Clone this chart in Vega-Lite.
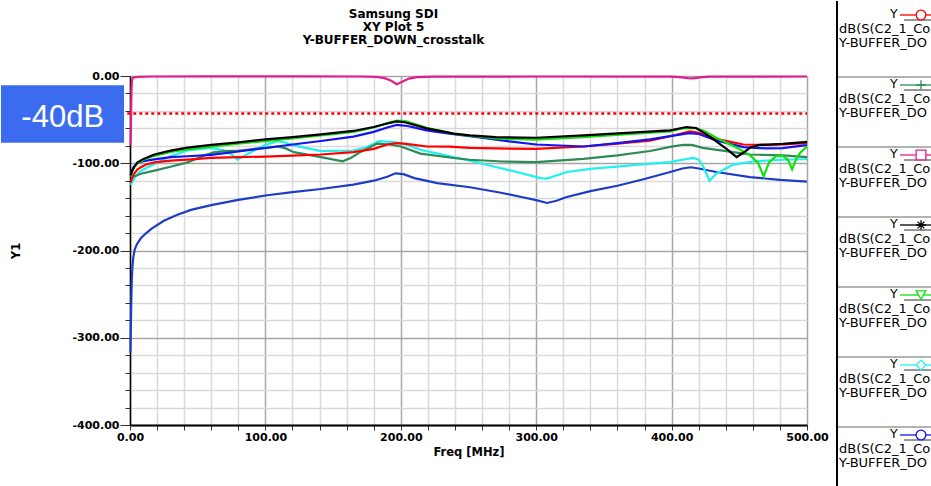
{
  "$schema": "https://vega.github.io/schema/vega-lite/v6.json",
  "padding": 0,
  "background": "white",
  "bounds": "flush",
  "spacing": 30,
  "config": {
    "view": {"stroke": null},
    "axis": {"labelFont": "DejaVu Sans", "labelFontWeight": "bold", "labelFontSize": 11, "labelColor": "#000000", "titleFont": "DejaVu Sans", "titleFontWeight": "bold", "titleFontSize": 11.5, "titleColor": "#000000"}
  },
  "datasets": {
    "curves": [
      {"series":"S8","f":0.3,"db":-317},{"series":"S8","f":0.6,"db":-290},{"series":"S8","f":0.9,"db":-262},{"series":"S8","f":1.3,"db":-235},{"series":"S8","f":1.8,"db":-218},{"series":"S8","f":2.5,"db":-207},{"series":"S8","f":3.5,"db":-199},{"series":"S8","f":5,"db":-193},{"series":"S8","f":8,"db":-186},{"series":"S8","f":12,"db":-180},{"series":"S8","f":16,"db":-175},{"series":"S8","f":25,"db":-166},{"series":"S8","f":35,"db":-159},{"series":"S8","f":45,"db":-153.5},{"series":"S8","f":60,"db":-148},{"series":"S8","f":80,"db":-142},{"series":"S8","f":100,"db":-137},{"series":"S8","f":120,"db":-133},{"series":"S8","f":141,"db":-129.5},{"series":"S8","f":165,"db":-124.5},{"series":"S8","f":180,"db":-120},{"series":"S8","f":190,"db":-115.5},{"series":"S8","f":196,"db":-111.5},{"series":"S8","f":202,"db":-112.5},{"series":"S8","f":210,"db":-117},{"series":"S8","f":227,"db":-122.7},{"series":"S8","f":251,"db":-127.5},{"series":"S8","f":273,"db":-133.5},{"series":"S8","f":290,"db":-139},{"series":"S8","f":300,"db":-142.3},{"series":"S8","f":308,"db":-145.5},{"series":"S8","f":315,"db":-143},{"series":"S8","f":322,"db":-139},{"series":"S8","f":340,"db":-132},{"series":"S8","f":360,"db":-125.8},{"series":"S8","f":380,"db":-118},{"series":"S8","f":399,"db":-110},{"series":"S8","f":408,"db":-106},{"series":"S8","f":414,"db":-104.6},{"series":"S8","f":420,"db":-106},{"series":"S8","f":433,"db":-110},{"series":"S8","f":458,"db":-116},{"series":"S8","f":480,"db":-119},{"series":"S8","f":500,"db":-121},

      {"series":"S6","f":0.5,"db":-125},{"series":"S6","f":2,"db":-120},{"series":"S6","f":4,"db":-115},{"series":"S6","f":8,"db":-108.5},{"series":"S6","f":18,"db":-100.8},{"series":"S6","f":30,"db":-92},{"series":"S6","f":42.5,"db":-85.4},{"series":"S6","f":60,"db":-82.3},{"series":"S6","f":69.5,"db":-85.4},{"series":"S6","f":75,"db":-90},{"series":"S6","f":79.4,"db":-96},{"series":"S6","f":85,"db":-91},{"series":"S6","f":91.6,"db":-85.4},{"series":"S6","f":100,"db":-79},{"series":"S6","f":109,"db":-74.6},{"series":"S6","f":115,"db":-76.5},{"series":"S6","f":121,"db":-79.6},{"series":"S6","f":141,"db":-86},{"series":"S6","f":165,"db":-85.4},{"series":"S6","f":175,"db":-81.5},{"series":"S6","f":184,"db":-74.6},{"series":"S6","f":195,"db":-75.8},{"series":"S6","f":205,"db":-79},{"series":"S6","f":214.5,"db":-84.6},{"series":"S6","f":239,"db":-93},{"series":"S6","f":251,"db":-97},{"series":"S6","f":261,"db":-100.8},{"series":"S6","f":285.7,"db":-110},{"series":"S6","f":303,"db":-117},{"series":"S6","f":308,"db":-117.5},{"series":"S6","f":322.6,"db":-110},{"series":"S6","f":340,"db":-106.5},{"series":"S6","f":359.5,"db":-103.8},{"series":"S6","f":380,"db":-101},{"series":"S6","f":398.8,"db":-98.8},{"series":"S6","f":408,"db":-96},{"series":"S6","f":416,"db":-93.8},{"series":"S6","f":420,"db":-96},{"series":"S6","f":423,"db":-102.7},{"series":"S6","f":428,"db":-120},{"series":"S6","f":433,"db":-112},{"series":"S6","f":445.5,"db":-101.5},{"series":"S6","f":460,"db":-98},{"series":"S6","f":482,"db":-96},{"series":"S6","f":498,"db":-95.4},{"series":"S6","f":500,"db":-95.3},

      {"series":"S2","f":0.5,"db":-116},{"series":"S2","f":2,"db":-115},{"series":"S2","f":5,"db":-114},{"series":"S2","f":8,"db":-112},{"series":"S2","f":18,"db":-108.5},{"series":"S2","f":30,"db":-104},{"series":"S2","f":42.5,"db":-99},{"series":"S2","f":55,"db":-91},{"series":"S2","f":62,"db":-87.5},{"series":"S2","f":70,"db":-86},{"series":"S2","f":80.6,"db":-85.4},{"series":"S2","f":100,"db":-82.3},{"series":"S2","f":109,"db":-80.8},{"series":"S2","f":115,"db":-83},{"series":"S2","f":121,"db":-87.3},{"series":"S2","f":141,"db":-93},{"series":"S2","f":157,"db":-97.7},{"series":"S2","f":163,"db":-94},{"series":"S2","f":170,"db":-87.3},{"series":"S2","f":182.5,"db":-77.5},{"series":"S2","f":192,"db":-78.5},{"series":"S2","f":200,"db":-80.8},{"series":"S2","f":214.5,"db":-89},{"series":"S2","f":239,"db":-94},{"series":"S2","f":251,"db":-96},{"series":"S2","f":275,"db":-98},{"series":"S2","f":300,"db":-98.8},{"series":"S2","f":335,"db":-95},{"series":"S2","f":360,"db":-91},{"series":"S2","f":384,"db":-86},{"series":"S2","f":400,"db":-81},{"series":"S2","f":408.6,"db":-78.8},{"series":"S2","f":415,"db":-79},{"series":"S2","f":423,"db":-82.3},{"series":"S2","f":445.5,"db":-87.3},{"series":"S2","f":458,"db":-90},{"series":"S2","f":482,"db":-91},{"series":"S2","f":500,"db":-93},

      {"series":"S1","f":0.5,"db":-122},{"series":"S1","f":1.5,"db":-117},{"series":"S1","f":3,"db":-112},{"series":"S1","f":5.6,"db":-107},{"series":"S1","f":8,"db":-104.6},{"series":"S1","f":12,"db":-101.5},{"series":"S1","f":18,"db":-99},{"series":"S1","f":30,"db":-97},{"series":"S1","f":42.5,"db":-95.8},{"series":"S1","f":60,"db":-93.8},{"series":"S1","f":80,"db":-93},{"series":"S1","f":100,"db":-92.3},{"series":"S1","f":120,"db":-91.2},{"series":"S1","f":141,"db":-90},{"series":"S1","f":165,"db":-87.3},{"series":"S1","f":180,"db":-83.5},{"series":"S1","f":190,"db":-78.5},{"series":"S1","f":197,"db":-77},{"series":"S1","f":202,"db":-77.5},{"series":"S1","f":210,"db":-79},{"series":"S1","f":219,"db":-80.8},{"series":"S1","f":236,"db":-81},{"series":"S1","f":251,"db":-82.3},{"series":"S1","f":270,"db":-83},{"series":"S1","f":300,"db":-83.5},{"series":"S1","f":335,"db":-80.8},{"series":"S1","f":360,"db":-77.5},{"series":"S1","f":384,"db":-74},{"series":"S1","f":399,"db":-69},{"series":"S1","f":413.5,"db":-63.5},{"series":"S1","f":420,"db":-65},{"series":"S1","f":433,"db":-72},{"series":"S1","f":453,"db":-78.5},{"series":"S1","f":470,"db":-79},{"series":"S1","f":482,"db":-78.5},{"series":"S1","f":498,"db":-77},{"series":"S1","f":500,"db":-77},

      {"series":"S7","f":0.5,"db":-113},{"series":"S7","f":1.5,"db":-108.5},{"series":"S7","f":3,"db":-104},{"series":"S7","f":5.6,"db":-100},{"series":"S7","f":10,"db":-97.5},{"series":"S7","f":18,"db":-95.5},{"series":"S7","f":30,"db":-93},{"series":"S7","f":42.5,"db":-92},{"series":"S7","f":60,"db":-90.5},{"series":"S7","f":80,"db":-86.5},{"series":"S7","f":100,"db":-82.5},{"series":"S7","f":120,"db":-78.5},{"series":"S7","f":141,"db":-74.5},{"series":"S7","f":165,"db":-69.5},{"series":"S7","f":180,"db":-64},{"series":"S7","f":190,"db":-59},{"series":"S7","f":197,"db":-56},{"series":"S7","f":205,"db":-57.3},{"series":"S7","f":219,"db":-62.3},{"series":"S7","f":236,"db":-66},{"series":"S7","f":251,"db":-69},{"series":"S7","f":261,"db":-71},{"series":"S7","f":280,"db":-75},{"series":"S7","f":300,"db":-78.5},{"series":"S7","f":335,"db":-80.8},{"series":"S7","f":360,"db":-77},{"series":"S7","f":384,"db":-72.7},{"series":"S7","f":399,"db":-69},{"series":"S7","f":413,"db":-65.4},{"series":"S7","f":420,"db":-66.5},{"series":"S7","f":433,"db":-74},{"series":"S7","f":453,"db":-81.5},{"series":"S7","f":470,"db":-83},{"series":"S7","f":482,"db":-82.7},{"series":"S7","f":498,"db":-79.6},{"series":"S7","f":500,"db":-79.5},

      {"series":"S5","f":0.5,"db":-115},{"series":"S5","f":1.5,"db":-110},{"series":"S5","f":3,"db":-105},{"series":"S5","f":5.6,"db":-100},{"series":"S5","f":10,"db":-96},{"series":"S5","f":18,"db":-91.5},{"series":"S5","f":30,"db":-87},{"series":"S5","f":42.5,"db":-84},{"series":"S5","f":60,"db":-81},{"series":"S5","f":80,"db":-77.5},{"series":"S5","f":100,"db":-74.6},{"series":"S5","f":120,"db":-71.5},{"series":"S5","f":141,"db":-68},{"series":"S5","f":165,"db":-64},{"series":"S5","f":180,"db":-59},{"series":"S5","f":190,"db":-54},{"series":"S5","f":197,"db":-51},{"series":"S5","f":204,"db":-52},{"series":"S5","f":212,"db":-56},{"series":"S5","f":219,"db":-59.5},{"series":"S5","f":239,"db":-66},{"series":"S5","f":251,"db":-68.5},{"series":"S5","f":270,"db":-71.5},{"series":"S5","f":300,"db":-73},{"series":"S5","f":335,"db":-70},{"series":"S5","f":370,"db":-66.5},{"series":"S5","f":399,"db":-63.5},{"series":"S5","f":408,"db":-60},{"series":"S5","f":418,"db":-59.6},{"series":"S5","f":425,"db":-63.5},{"series":"S5","f":433,"db":-70.8},{"series":"S5","f":448,"db":-82},{"series":"S5","f":458,"db":-91},{"series":"S5","f":464,"db":-100},{"series":"S5","f":468,"db":-115},{"series":"S5","f":472,"db":-99},{"series":"S5","f":477,"db":-92},{"series":"S5","f":482,"db":-91.5},{"series":"S5","f":486,"db":-96},{"series":"S5","f":489,"db":-107},{"series":"S5","f":492,"db":-95},{"series":"S5","f":495,"db":-88},{"series":"S5","f":500,"db":-81},

      {"series":"S4","f":0.5,"db":-114},{"series":"S4","f":1.5,"db":-109},{"series":"S4","f":3,"db":-104},{"series":"S4","f":5.6,"db":-99},{"series":"S4","f":10,"db":-95},{"series":"S4","f":18,"db":-90},{"series":"S4","f":30,"db":-85.5},{"series":"S4","f":42.5,"db":-82},{"series":"S4","f":60,"db":-79},{"series":"S4","f":80,"db":-76},{"series":"S4","f":100,"db":-72.7},{"series":"S4","f":120,"db":-70},{"series":"S4","f":141,"db":-67},{"series":"S4","f":165,"db":-63},{"series":"S4","f":180,"db":-58.5},{"series":"S4","f":190,"db":-54.5},{"series":"S4","f":197,"db":-52},{"series":"S4","f":203,"db":-53},{"series":"S4","f":210,"db":-56},{"series":"S4","f":219,"db":-60},{"series":"S4","f":239,"db":-66},{"series":"S4","f":251,"db":-68},{"series":"S4","f":270,"db":-70},{"series":"S4","f":300,"db":-70.8},{"series":"S4","f":335,"db":-68},{"series":"S4","f":370,"db":-65},{"series":"S4","f":399,"db":-62.3},{"series":"S4","f":411,"db":-58.5},{"series":"S4","f":418,"db":-59.6},{"series":"S4","f":425,"db":-66},{"series":"S4","f":433,"db":-75},{"series":"S4","f":441,"db":-84},{"series":"S4","f":448,"db":-93},{"series":"S4","f":453,"db":-88},{"series":"S4","f":458,"db":-82},{"series":"S4","f":465,"db":-79},{"series":"S4","f":482,"db":-77.7},{"series":"S4","f":498,"db":-75.8},{"series":"S4","f":500,"db":-75.5},

      {"series":"S3","f":0.4,"db":-79},{"series":"S3","f":0.7,"db":-60},{"series":"S3","f":0.9,"db":-35},{"series":"S3","f":1.1,"db":-15},{"series":"S3","f":1.4,"db":-6},{"series":"S3","f":2,"db":-2.5},{"series":"S3","f":3,"db":-1.5},{"series":"S3","f":6,"db":-1},{"series":"S3","f":15,"db":-0.6},{"series":"S3","f":60,"db":-0.5},{"series":"S3","f":120,"db":-0.5},{"series":"S3","f":170,"db":-0.6},{"series":"S3","f":182,"db":-1},{"series":"S3","f":188,"db":-2.5},{"series":"S3","f":193,"db":-5.5},{"series":"S3","f":197,"db":-9.5},{"series":"S3","f":201,"db":-6.5},{"series":"S3","f":206,"db":-3},{"series":"S3","f":212,"db":-1.2},{"series":"S3","f":225,"db":-0.8},{"series":"S3","f":300,"db":-0.6},{"series":"S3","f":400,"db":-0.7},{"series":"S3","f":406,"db":-1.3},{"series":"S3","f":412,"db":-2.5},{"series":"S3","f":416,"db":-2.8},{"series":"S3","f":421,"db":-1.5},{"series":"S3","f":428,"db":-0.8},{"series":"S3","f":500,"db":-0.6}
    ],
    "legend": [
      {"entry":1,"series":"S1","label":"dB(S(C2_1_Conn_1,C2_1_Conn_2))","trace":"Y-BUFFER_DOWN_crosstalk"},
      {"entry":2,"series":"S2","label":"dB(S(C2_1_Conn_1,C2_1_Conn_3))","trace":"Y-BUFFER_DOWN_crosstalk"},
      {"entry":3,"series":"S3","label":"dB(S(C2_1_Conn_1,C2_1_Conn_1))","trace":"Y-BUFFER_DOWN_crosstalk"},
      {"entry":4,"series":"S4","label":"dB(S(C2_1_Conn_1,C2_1_Conn_4))","trace":"Y-BUFFER_DOWN_crosstalk"},
      {"entry":5,"series":"S5","label":"dB(S(C2_1_Conn_1,C2_1_Conn_5))","trace":"Y-BUFFER_DOWN_crosstalk"},
      {"entry":6,"series":"S6","label":"dB(S(C2_1_Conn_1,C2_1_Conn_6))","trace":"Y-BUFFER_DOWN_crosstalk"},
      {"entry":7,"series":"S7","label":"dB(S(C2_1_Conn_1,C2_1_Conn_7))","trace":"Y-BUFFER_DOWN_crosstalk"}
    ]
  },
  "hconcat": [
    {
      "width": 677,
      "height": 349,
      "title": {"text": ["Samsung SDI", "XY Plot 5", "Y-BUFFER_DOWN_crosstalk"], "font": "DejaVu Sans", "fontSize": 12, "fontWeight": "bold", "lineHeight": 13, "offset": 23, "frame": "group", "anchor": "middle", "dx": -75, "color": "#000000"},
      "resolve": {"axis": {"x": "independent", "y": "independent"}},
      "layer": [
        {
          "data": {"name": "curves"},
          "mark": {"type": "line", "strokeWidth": 2.2},
          "encoding": {
            "x": {"field": "f", "type": "quantitative", "scale": {"domain": [0, 500], "nice": false, "zero": false},
                  "axis": {"orient": "bottom", "values": [20,40,60,80,120,140,160,180,220,240,260,280,320,340,360,380,420,440,460,480], "labels": false, "domain": false, "ticks": true, "tickSize": 5, "tickColor": "#333333", "tickWidth": 1, "grid": true, "gridColor": "#d9d9d9", "gridWidth": 1.5, "title": null}},
            "y": {"field": "db", "type": "quantitative", "scale": {"domain": [-400, 0], "nice": false, "zero": false},
                  "axis": {"orient": "left", "values": [-380,-360,-340,-320,-280,-260,-240,-220,-180,-160,-140,-120,-80,-60,-40,-20], "labels": false, "domain": false, "ticks": true, "tickSize": 5, "tickColor": "#333333", "tickWidth": 1, "grid": true, "gridColor": "#d9d9d9", "gridWidth": 1.5, "title": null}},
            "color": {"field": "series", "type": "nominal", "legend": null,
                      "scale": {"domain": ["S1","S2","S3","S4","S5","S6","S7","S8"], "range": ["#ff0000","#2e8b57","#e0208a","#000000","#10e010","#20f0f0","#1414f0","#1e3cc8"]}}
          }
        },
        {
          "data": {"values": [{}]},
          "mark": {"type": "rule", "color": "#ff0000", "strokeWidth": 2.5, "strokeDash": [3, 3]},
          "encoding": {
            "x": {"datum": -2, "type": "quantitative",
                  "axis": {"orient": "bottom", "values": [0,100,200,300,400,500], "labelExpr": "datum.value + '.00'", "labelPadding": 1, "labelFlush": false, "labelOverlap": false, "domain": true, "domainColor": "#000000", "domainWidth": 2, "ticks": true, "tickSize": 5, "tickColor": "#333333", "tickWidth": 1, "grid": true, "gridColor": "#a6a6a6", "gridWidth": 1.5, "title": "Freq [MHz]", "titlePadding": 4}},
            "x2": {"datum": 500},
            "y": {"datum": -43, "type": "quantitative",
                  "axis": {"orient": "left", "values": [-400,-300,-200,-100,0], "labelExpr": "datum.value + '.00'", "labelPadding": 1, "labelFlush": false, "labelOverlap": false, "domain": true, "domainColor": "#000000", "domainWidth": 1.5, "ticks": true, "tickSize": 10, "tickColor": "#333333", "tickWidth": 1, "grid": true, "gridColor": "#a6a6a6", "gridWidth": 1.5, "title": "Y1", "titlePadding": 50}}
          }
        },
        {
          "data": {"values": [{}]},
          "mark": {"type": "rect", "color": "#3b6cf0"},
          "encoding": {
            "x": {"datum": -95.3, "type": "quantitative", "axis": null},
            "x2": {"datum": -4.4},
            "y": {"datum": -10.7, "type": "quantitative", "axis": null},
            "y2": {"datum": -76.4}
          }
        },
        {
          "data": {"values": [{}]},
          "mark": {"type": "text", "text": "-40dB", "font": "Liberation Sans", "fontSize": 31, "color": "#ffffff", "align": "center", "baseline": "alphabetic"},
          "encoding": {
            "x": {"datum": -49.7, "type": "quantitative", "axis": null},
            "y": {"datum": -58, "type": "quantitative", "axis": null}
          }
        }
      ]
    },
    {
      "width": 95,
      "height": 411,
      "data": {"name": "legend"},
      "layer": [
        {
          "mark": {"type": "rule", "color": "#000000", "strokeWidth": 2},
          "encoding": {
            "x": {"datum": 0, "type": "quantitative", "scale": {"domain": [0, 95], "nice": false, "zero": false}, "axis": null},
            "y": {"datum": 0.914286, "type": "quantitative", "scale": {"domain": [1.985714, 7.857143], "nice": false, "zero": false, "reverse": true}, "axis": null},
            "y2": {"datum": 7.857143}
          }
        },
        {
          "transform": [{"filter": "datum.entry >= 2"}],
          "mark": {"type": "rule", "color": "#9a9a9a", "strokeWidth": 1.5},
          "encoding": {
            "x": {"datum": 1, "type": "quantitative", "axis": null},
            "x2": {"datum": 95},
            "y": {"field": "entry", "type": "quantitative", "axis": null}
          }
        },
        {
          "mark": {"type": "text", "text": "Y", "font": "DejaVu Sans", "fontSize": 12.5, "color": "#000000", "align": "left", "baseline": "middle", "dy": 7},
          "encoding": {
            "x": {"datum": 53, "type": "quantitative", "axis": null},
            "y": {"field": "entry", "type": "quantitative", "axis": null}
          }
        },
        {
          "mark": {"type": "rule", "strokeWidth": 1.3, "yOffset": 8},
          "encoding": {
            "x": {"datum": 63, "type": "quantitative", "axis": null},
            "x2": {"datum": 95},
            "y": {"field": "entry", "type": "quantitative", "axis": null},
            "color": {"field": "series", "type": "nominal", "legend": null,
                      "scale": {"domain": ["S1","S2","S3","S4","S5","S6","S7","S8"], "range": ["#ff0000","#2e8b57","#e0208a","#000000","#10e010","#20f0f0","#1414f0","#1e3cc8"]}}
          }
        },
        {
          "mark": {"type": "rule", "strokeWidth": 1, "color": "#333333", "yOffset": 13},
          "encoding": {
            "x": {"datum": 67, "type": "quantitative", "axis": null},
            "x2": {"datum": 95},
            "y": {"field": "entry", "type": "quantitative", "axis": null}
          }
        },
        {
          "mark": {"type": "point", "filled": false, "strokeWidth": 1.3, "size": 95, "yOffset": 8, "fill": "#ffffff", "fillOpacity": 1},
          "encoding": {
            "x": {"datum": 84, "type": "quantitative", "axis": null},
            "y": {"field": "entry", "type": "quantitative", "axis": null},
            "color": {"field": "series", "type": "nominal", "legend": null},
            "shape": {"field": "series", "type": "nominal", "legend": null,
                      "scale": {"domain": ["S1","S2","S3","S4","S5","S6","S7","S8"], "range": ["circle", "M-1,0L1,0M0,-1L0,1", "square", "M-1,0L1,0M0,-1L0,1M-0.7,-0.7L0.7,0.7M-0.7,0.7L0.7,-0.7", "triangle-down", "diamond", "circle", "circle"]}}
          }
        },
        {
          "mark": {"type": "text", "font": "DejaVu Sans", "fontSize": 13, "color": "#000000", "align": "left", "baseline": "middle", "dy": 22, "dx": 2, "limit": 94, "ellipsis": "\u200b"},
          "encoding": {
            "x": {"datum": 0, "type": "quantitative", "axis": null},
            "y": {"field": "entry", "type": "quantitative", "axis": null},
            "text": {"field": "label"}
          }
        },
        {
          "mark": {"type": "text", "font": "DejaVu Sans", "fontSize": 13, "color": "#000000", "align": "left", "baseline": "middle", "dy": 36, "dx": 2, "limit": 94, "ellipsis": "\u200b"},
          "encoding": {
            "x": {"datum": 0, "type": "quantitative", "axis": null},
            "y": {"field": "entry", "type": "quantitative", "axis": null},
            "text": {"field": "trace"}
          }
        }
      ]
    }
  ]
}
